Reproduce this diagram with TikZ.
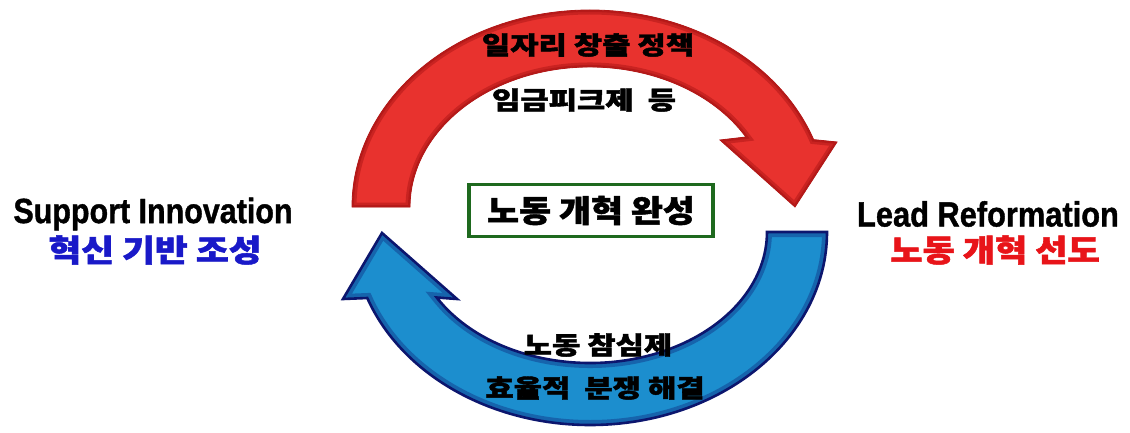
\documentclass[tikz,border=0pt]{standalone}
\usepackage{fontspec}
\usepackage{graphicx}
\setmainfont{Liberation Sans}[BoldFeatures={FakeBold=1.2}]
\newfontfamily\kr{Noto Sans CJK KR}[BoldFeatures={FakeBold=1.6}]
\definecolor{redfill}{RGB}{232,50,46}
\definecolor{reddark}{RGB}{165,18,18}
\definecolor{bluefill}{RGB}{28,142,206}
\definecolor{bluedark}{RGB}{12,22,110}
\definecolor{boxgreen}{RGB}{30,105,30}
\definecolor{txtblue}{RGB}{25,25,200}
\definecolor{txtred}{RGB}{232,20,25}
\tikzset{
  krlabel/.style={font=\kr\bfseries\fontsize{25}{28}\selectfont, inner sep=0pt, text=black},
  entxt/.style={font=\bfseries\fontsize{35}{38}\selectfont, inner sep=0pt, text=black},
  krside/.style={font=\kr\bfseries\fontsize{31}{34}\selectfont, inner sep=0pt},
  titlebox/.style={draw=boxgreen, line width=3.4pt, fill=white, minimum width=244pt, minimum height=52pt, inner sep=0pt, font=\kr\bfseries\fontsize{31}{34}\selectfont}
}
\def\redpath{(352,225) arc[start angle=180, end angle=20, x radius=238, y radius=197] -- (837,290) -- (795,225) -- (720,292) -- (745.9,295) arc[start angle=30, end angle=180, x radius=180, y radius=140] -- cycle}
\def\bluepath{(827,200) arc[start angle=360, end angle=200, x radius=237, y radius=193] -- (343,133) -- (382,199) -- (457,133) -- (436.7,134.5) arc[start angle=210, end angle=360, x radius=177, y radius=131] -- cycle}
\begin{document}
\begin{tikzpicture}[x=1pt,y=1pt]
\useasboundingbox (0,0) rectangle (1130,432);
\fill[white] (0,0) rectangle (1130,432);
% red arrow
\fill[redfill] \redpath;
\begin{scope}
  \clip \redpath;
  \draw[reddark, line width=9pt, opacity=0.45] \redpath;
  \draw[reddark, line width=4pt, opacity=0.5] \redpath;
\end{scope}
\draw[reddark!80!redfill, line width=0.8pt, line join=miter] \redpath;
% blue arrow
\fill[bluefill] \bluepath;
\begin{scope}
  \clip \bluepath;
  \draw[bluedark, line width=10pt, opacity=0.35] \bluepath;
\end{scope}
\draw[bluedark, line width=2.6pt, line join=miter] \bluepath;
% texts on arrows
\node[krlabel] (t1) at (588,387) {\scalebox{1.23}[1]{일자리 창출 정책}};
\node[krlabel] (t2) at (584,332) {\scalebox{1.23}[1]{임금피크제\ \ 등}};
\node[krlabel] (b1) at (598,87) {\scalebox{1.23}[1]{노동 참심제}};
\node[krlabel] (b2) at (595,44) {\scalebox{1.23}[1]{효율적\ \ 분쟁 해결}};
% centre box
\node[titlebox] (center) at (591,221.5) {\scalebox{1.12}[1]{노동 개혁 완성}};
% side labels
\node[entxt] (supen) at (153,218) {\scalebox{0.87}[1]{Support Innovation}};
\node[krside, text=txtblue] (supkr) at (155,182) {\scalebox{1.15}[1]{혁신 기반 조성}};
\node[entxt] (leaden) at (988,218) {\scalebox{0.88}[1]{Lead Reformation}};
\node[krside, text=txtred] (leadkr) at (995,182) {\scalebox{1.13}[1]{노동 개혁 선도}};
\end{tikzpicture}
\end{document}
